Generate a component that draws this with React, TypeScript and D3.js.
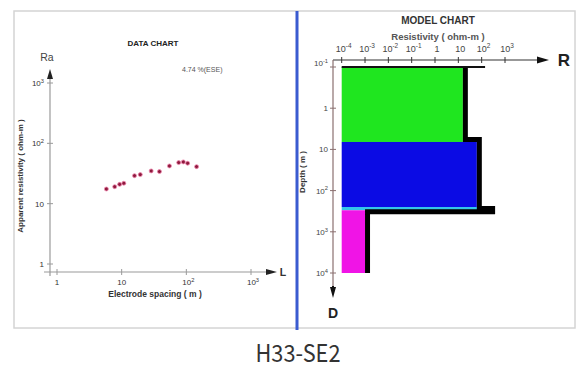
import React from 'react';
import * as d3 from 'd3';

// ---- Data chart (left) ----
const spacing = [5.8, 7.8, 9.3, 10.8, 15.8, 19.4, 28.6, 38.4, 54.8, 76.2, 89.9, 104.7, 144];
const appRes = [17.5, 19.1, 20.9, 21.8, 29.1, 30.3, 34.9, 34.0, 42.2, 47.9, 49.2, 46.8, 41.1];
const dataXTicks = [1, 10, 100, 1000];
const dataYTicks = [1, 10, 100, 1000];
const errorText = '4.74 %(ESE)';

// ---- Model chart (right) ----
const layerTop = [0.1, 6.6, 250, 300];
const layerBottom = [6.6, 250, 300, 10000];
const layerRho = [15.6, 62, 230, 0.001];
const layerColor = ['#1fe61f', '#0b0be4', '#34c6ea', '#f014e6'];
const rTicks = [1e-4, 1e-3, 1e-2, 1e-1, 1, 10, 100, 1000];
const depthTicks = [0.1, 1, 10, 100, 1000, 10000];
const surfaceRho = 140;

const title = 'H33-SE2';

function PowLabel({ v, x, y, size, anchor = 'middle', fill = '#333', weight = 'normal' }: any) {
  const e = Math.round(Math.log10(v));
  const common = { x, y, fontSize: size, textAnchor: anchor, fill, fontWeight: weight, fontFamily: 'Liberation Sans, Arial, sans-serif' };
  if (e === 0) return <text {...common}>1</text>;
  if (e === 1) return <text {...common}>10</text>;
  return (
    <text {...common}>
      10<tspan dy={-size * 0.4} fontSize={size * 0.72}>{e < 0 ? '-' + Math.abs(e) : e}</tspan>
    </text>
  );
}

export default function App() {
  const W = 578, H = 370;
  // left scales
  const xL = d3.scaleLog().domain([1, 1000]).range([57, 251]);
  const yL = d3.scaleLog().domain([1, 1000]).range([264, 83]);
  // right scales
  const xR = d3.scaleLog().domain([1e-4, 1000]).range([341.7, 505]);
  const yR = d3.scaleLog().domain([0.1, 10000]).range([67, 273]);

  const axisL = '#9a9a9a';
  const font = 'Liberation Sans, Arial, sans-serif';

  // model step path (drawn as a thick black outline just outside the fills)
  const pts: [number, number][] = [];
  layerRho.forEach((r, i) => {
    const xx = xR(r) + 2.5;
    const thickPx = (j: number) => yR(layerBottom[j]) - yR(layerTop[j]);
    let yTop = yR(layerTop[i]);
    if (i > 0) {
      const prev = layerRho[i - 1];
      yTop = r > prev && thickPx(i) > 10 ? yR(layerTop[i]) - 2.5 : yR(layerTop[i]) + 1.5;
    }
    let yBot = yR(layerBottom[i]);
    if (i < layerRho.length - 1) {
      const next = layerRho[i + 1];
      yBot = next > r && thickPx(i + 1) > 10 ? yR(layerBottom[i]) - 2.5 : yR(layerBottom[i]) + 1.5;
    }
    pts.push([xx, yTop]);
    pts.push([xx, yBot]);
  });
  const modelLine = d3.line()(pts) || '';

  return (
    <svg width={W} height={H} style={{ position: 'absolute', left: 0, top: 0, background: '#fff' }}>
      <rect x={0} y={0} width={W} height={H} fill="#fff" />
      {/* frame */}
      <rect x={14} y={11} width={561} height={317} fill="none" stroke="#d4d4d4" strokeWidth={1.5} />
      <line x1={297} x2={297} y1={11} y2={330} stroke="#3a5bd0" strokeWidth={3} />

      {/* ===== DATA CHART ===== */}
      <text x={153} y={46} fontSize={8} fontWeight="bold" textAnchor="middle" fill="#222" fontFamily={font}>DATA CHART</text>
      <text x={182} y={72} fontSize={7} fill="#555" fontFamily={font}>{errorText}</text>
      {/* y axis */}
      <line x1={50} x2={50} y1={276} y2={76} stroke={axisL} strokeWidth={1.2} />
      <path d="M50,69 L47,79 L53,79 Z" fill="#222" />
      <text x={47} y={61} fontSize={10.5} textAnchor="middle" fill="#444" fontFamily={font}>Ra</text>
      {dataYTicks.map((t) => (
        <g key={'yl' + t}>
          <line x1={47} x2={53} y1={yL(t)} y2={yL(t)} stroke={axisL} strokeWidth={1} />
          <PowLabel v={t} x={44} y={yL(t) + 3} size={8} anchor="end" fill="#333" />
        </g>
      ))}
      {/* x axis */}
      <line x1={44} x2={268} y1={272} y2={272} stroke={axisL} strokeWidth={1.2} />
      <path d="M277,272 L266,269 L266,275 Z" fill="#222" />
      <text x={283} y={276} fontSize={10.5} textAnchor="middle" fill="#333" fontWeight="bold" fontFamily={font}>L</text>
      {dataXTicks.map((t) => (
        <g key={'xl' + t}>
          <line x1={xL(t)} x2={xL(t)} y1={269} y2={275} stroke={axisL} strokeWidth={1} />
          <PowLabel v={t} x={xL(t) + (t > 10 ? 2 : 0)} y={285} size={8} anchor="middle" />
        </g>
      ))}
      <text x={155} y={297} fontSize={8.5} fontWeight="bold" textAnchor="middle" fill="#333" fontFamily={font}>Electrode spacing  ( m )</text>
      <text transform="translate(23,176) rotate(-90)" fontSize={8} fontWeight="bold" textAnchor="middle" fill="#333" fontFamily={font}>Apparent resistivity  ( ohm-m )</text>
      {/* points */}
      {spacing.map((s, i) => (
        <circle key={'p' + i} cx={xL(s)} cy={yL(appRes[i])} r={2} fill="#8e1a3e" stroke="#f08ab0" strokeWidth={0.8} />
      ))}

      {/* ===== MODEL CHART ===== */}
      <text x={438} y={24} fontSize={10} fontWeight="bold" textAnchor="middle" fill="#333" fontFamily={font}>MODEL CHART</text>
      <text x={438} y={40} fontSize={9.5} fontWeight="bold" textAnchor="middle" fill="#555" fontFamily={font}>Resistivity  ( ohm-m )</text>
      {rTicks.map((t) => (
        <g key={'rt' + t}>
          <line x1={xR(t)} x2={xR(t)} y1={57} y2={63} stroke="#333" strokeWidth={1} />
          <PowLabel v={t} x={xR(t) + 2} y={52} size={9} anchor="middle" fill="#444" />
        </g>
      ))}

      {/* layer fills */}
      {layerRho.map((r, i) => (
        <rect key={'ly' + i} x={xR(1e-4)} y={yR(layerTop[i])} width={xR(r) - xR(1e-4)}
          height={yR(layerBottom[i]) - yR(layerTop[i])} fill={layerColor[i]} />
      ))}
      <path d={modelLine} fill="none" stroke="#000" strokeWidth={5} strokeLinejoin="miter" />
      <line x1={xR(1e-4)} x2={xR(surfaceRho)} y1={yR(0.1)} y2={yR(0.1)} stroke="#111" strokeWidth={2} />

      {/* R axis */}
      <line x1={333} x2={540} y1={60} y2={60} stroke="#333" strokeWidth={1.2} />
      <path d="M549,60 L537,56.5 L537,63.5 Z" fill="#111" />
      <text x={564} y={66} fontSize={17} fontWeight="bold" textAnchor="middle" fill="#222" fontFamily={font}>R</text>

      {/* depth axis */}
      <line x1={333} x2={333} y1={60} y2={288} stroke="#8a7070" strokeWidth={1.2} />
      <path d="M333,298 L330,287 L336,287 Z" fill="#111" />
      <line x1={333} x2={333} y1={286} y2={292} stroke="#111" strokeWidth={2} />
      <text x={333} y={318} fontSize={14} fontWeight="bold" textAnchor="middle" fill="#222" fontFamily={font}>D</text>
      {depthTicks.map((t) => (
        <g key={'dt' + t}>
          <line x1={330} x2={336} y1={yR(t)} y2={yR(t)} stroke="#8a7070" strokeWidth={1} />
          <PowLabel v={t} x={328} y={yR(t) + 3 - (t < 1 ? 4 : 0)} size={8} anchor="end" fill="#444" />
        </g>
      ))}
      <text transform="translate(305,172) rotate(-90)" fontSize={8} fontWeight="bold" textAnchor="middle" fill="#333" fontFamily={font}>Depth  ( m )</text>

      {/* title */}
      <text x={298} y={362} fontSize={24} textAnchor="middle" fill="#333" textLength={85} lengthAdjust="spacingAndGlyphs"
        fontFamily="Noto Sans CJK JP, DejaVu Sans, sans-serif">{title}</text>
    </svg>
  );
}
